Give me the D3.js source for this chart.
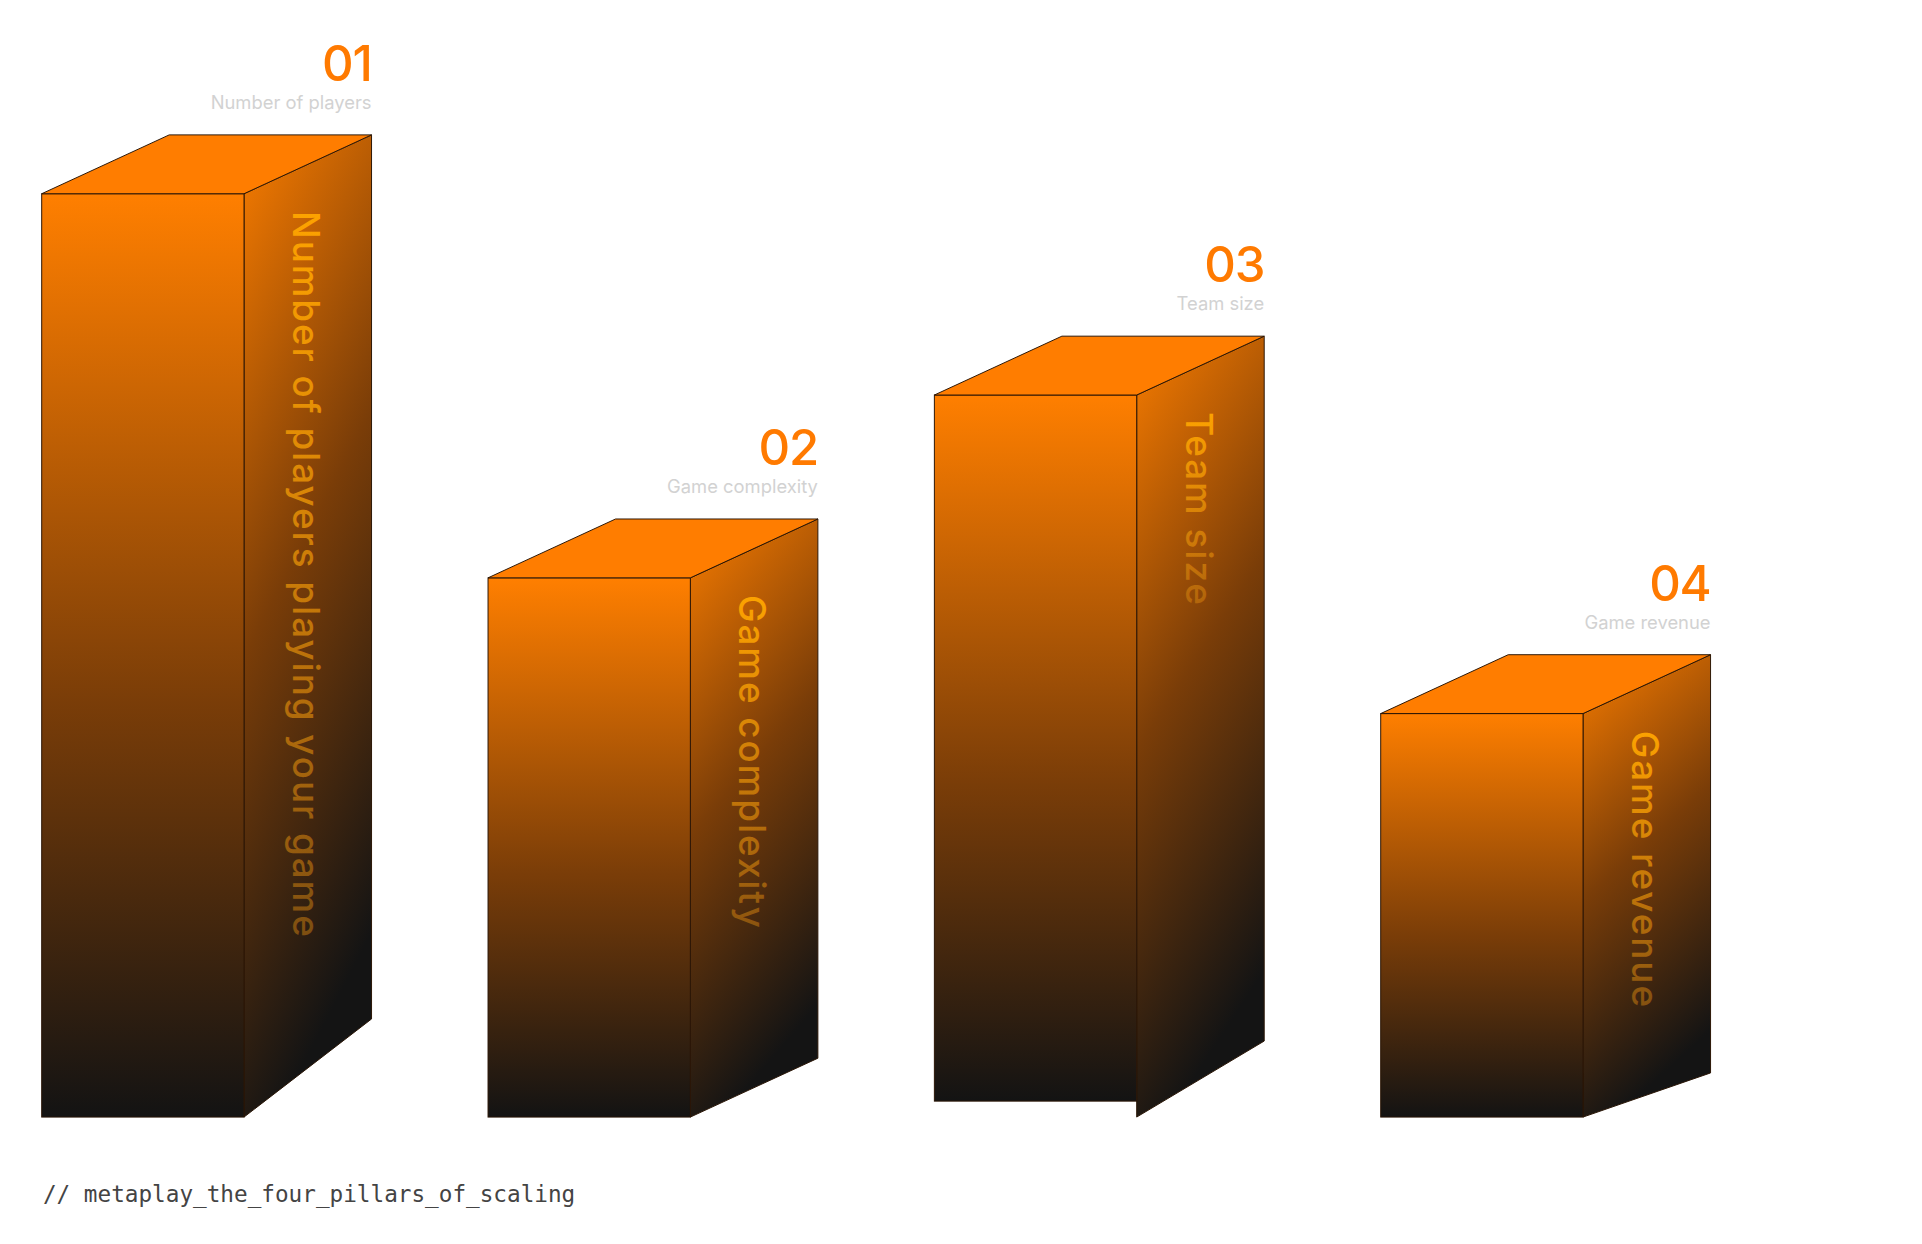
<!DOCTYPE html>
<html><head><meta charset="utf-8">
<script src="https://cdn.jsdelivr.net/npm/d3@7"></script>
<style>html,body{margin:0;background:#fff;}svg{display:block}</style>
</head><body>
<svg id="c" width="1922" height="1244"></svg>
<script>
const numbers = ["01","02","03","04"];
const titles = ["Number of players","Game complexity","Team size","Game revenue"];
const sideTexts = ["Number of players playing your game","Game complexity","Team size","Game revenue"];
const values = [100, 58.4, 78.2, 43.7];          // front face height (relative)
const sideBackDrop = [80, 48, 62, 36];           // how far the side face's back edge ends above the base
const frontBottomLift = [0, 0, 13, 0];           // front face bottom lifted (bar 3)
const footer = "// metaplay_the_four_pillars_of_scaling";

const S = 1922/1555/1.008;
const svg = d3.select("#c");
const g = svg.append("g").attr("transform",`scale(${S})`);
const base = 911, W = 165, DX = 104, DY = 48;
const step = 364;
const h = d3.scaleLinear().domain([0,100]).range([0,753]);

const defs = svg.append("defs");
const fg = defs.append("linearGradient").attr("id","front").attr("x1",0).attr("y1",0).attr("x2",0).attr("y2",1);
fg.append("stop").attr("offset","0%").attr("stop-color","#ff7f00");
fg.append("stop").attr("offset","55%").attr("stop-color","#7a3d08");
fg.append("stop").attr("offset","100%").attr("stop-color","#131313");
const sg = defs.append("linearGradient").attr("id","side").attr("x1",0).attr("y1",0).attr("x2",0.25).attr("y2",1);
sg.append("stop").attr("offset","0%").attr("stop-color","#f87c00");
sg.append("stop").attr("offset","50%").attr("stop-color","#7a3d08");
sg.append("stop").attr("offset","100%").attr("stop-color","#141414");
const tg = defs.append("linearGradient").attr("id","txt").attr("x1",0).attr("y1",0).attr("x2",1).attr("y2",0);
tg.append("stop").attr("offset","0%").attr("stop-color","#ffa600").attr("stop-opacity",0.95);
tg.append("stop").attr("offset","100%").attr("stop-color","#e08a10").attr("stop-opacity",0.45);

numbers.forEach((n,i)=>{
  const x0 = 34 + i*step, x1 = x0 + W;
  const top = base - h(values[i]);
  const fb = base - frontBottomLift[i];
  const bar = g.append("g");
  bar.append("path").attr("d",`M${x1},${top}L${x1+DX},${top-DY}L${x1+DX},${base-sideBackDrop[i]}L${x1},${base}Z`)
    .attr("fill","url(#side)").attr("stroke","#2a1505").attr("stroke-width",0.8);
  bar.append("rect").attr("x",x0).attr("y",top).attr("width",W).attr("height",fb-top)
    .attr("fill","url(#front)").attr("stroke","#2a1505").attr("stroke-width",0.8);
  bar.append("path").attr("d",`M${x0},${top}L${x0+DX},${top-DY}L${x1+DX},${top-DY}L${x1},${top}Z`)
    .attr("fill","#ff7d00").attr("stroke","#2a1505").attr("stroke-width",0.8);
  bar.append("text").attr("transform",`translate(${x1+40},${top+14}) rotate(90)`)
    .attr("font-family","Inter, 'DejaVu Sans', sans-serif").attr("font-size",30).attr("font-weight",500)
    .attr("letter-spacing",1.6)
    .attr("fill","url(#txt)").text(sideTexts[i]);
  g.append("text").attr("x",x1+DX).attr("y",top-DY-44).attr("text-anchor","end")
    .attr("font-family","Inter, sans-serif").attr("font-size",40).attr("font-weight",500)
    .attr("fill","#ff7a00").attr("letter-spacing",-1).text(n);
  g.append("text").attr("x",x1+DX).attr("y",top-DY-21).attr("text-anchor","end")
    .attr("font-family","Inter, sans-serif").attr("font-size",15)
    .attr("fill","#d2d2d2").text(titles[i]);
});
g.append("text").attr("x",35).attr("y",980).attr("font-family","'DejaVu Sans Mono', monospace")
  .attr("font-size",18.5).attr("fill","#444").text(footer);
</script>
</body></html>
